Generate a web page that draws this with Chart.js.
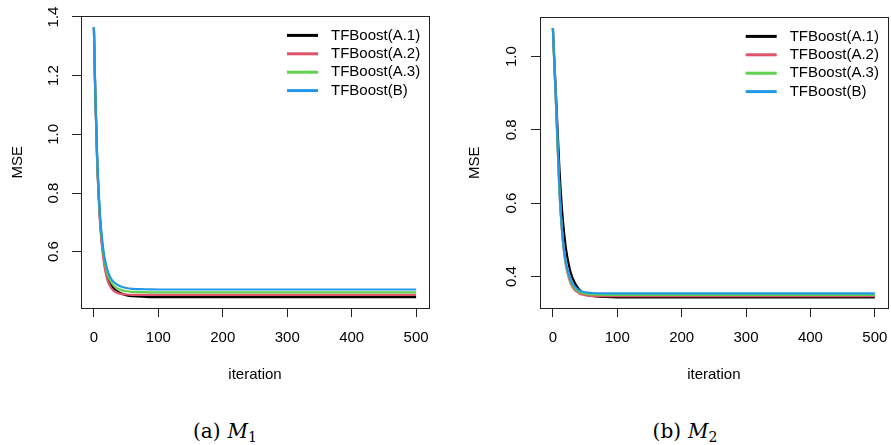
<!DOCTYPE html>
<html>
<head>
<meta charset="utf-8">
<script src="https://cdn.jsdelivr.net/npm/chart.js@4/dist/chart.umd.min.js"></script>
<style>
  body { margin: 0; background: #fff; }
  #wrap { position: relative; width: 891px; height: 445px; }
  .panel { position: absolute; top: 0; }
  .caption {
    position: absolute; top: 419px; width: 200px; text-align: center;
    font-family: "DejaVu Serif", serif; font-size: 20px; color: #000;
  }
  .caption i { margin-left: 7px; }
  .caption sub { font-size: 14px; vertical-align: -4px; }
</style>
</head>
<body>
<div id="wrap">
  <canvas id="m1" class="panel" style="left:0px" width="445" height="390"></canvas>
  <canvas id="m2" class="panel" style="left:445px" width="446" height="390"></canvas>
  <div class="caption" style="left:125px">(a)<i>M</i><sub>1</sub></div>
  <div class="caption" style="left:585px">(b)<i>M</i><sub>2</sub></div>
</div>
<script>
// boosting iterations at which the MSE was recorded
const iterations = [0, 2, 5, 10, 15, 20, 25, 30, 40, 50, 60, 80, 100, 150, 200, 300, 400, 500];
const xTicks = [0, 100, 200, 300, 400, 500];

const seriesLabels = ['TFBoost(A.1)', 'TFBoost(A.2)', 'TFBoost(A.3)', 'TFBoost(B)'];
const seriesColors = ['#000000', '#DF536B', '#61D04F', '#2297E6'];

// model M1
const mseM1_A1 = [1.365, 1.155, 0.92, 0.695, 0.585, 0.525, 0.495, 0.476, 0.460, 0.452, 0.448, 0.446, 0.445, 0.445, 0.445, 0.445, 0.445, 0.445];
const mseM1_A2 = [1.365, 1.150, 0.91, 0.680, 0.570, 0.510, 0.483, 0.468, 0.457, 0.454, 0.453, 0.453, 0.453, 0.453, 0.453, 0.453, 0.453, 0.453];
const mseM1_A3 = [1.365, 1.155, 0.92, 0.700, 0.590, 0.533, 0.503, 0.486, 0.471, 0.465, 0.463, 0.462, 0.461, 0.461, 0.461, 0.461, 0.461, 0.461];
const mseM1_B  = [1.365, 1.160, 0.93, 0.710, 0.600, 0.545, 0.515, 0.498, 0.483, 0.476, 0.473, 0.472, 0.471, 0.471, 0.471, 0.471, 0.471, 0.471];
const yTicksM1 = [0.6, 0.8, 1.0, 1.2, 1.4];

// model M2
const mseM2_A1 = [1.078, 1.000, 0.89, 0.700, 0.565, 0.480, 0.430, 0.398, 0.366, 0.352, 0.347, 0.344, 0.343, 0.343, 0.343, 0.343, 0.343, 0.343];
const mseM2_A2 = [1.078, 0.990, 0.86, 0.640, 0.505, 0.432, 0.395, 0.372, 0.355, 0.349, 0.347, 0.346, 0.346, 0.346, 0.346, 0.346, 0.346, 0.346];
const mseM2_A3 = [1.078, 0.990, 0.865, 0.643, 0.508, 0.436, 0.400, 0.377, 0.359, 0.353, 0.351, 0.350, 0.350, 0.350, 0.350, 0.350, 0.350, 0.350];
const mseM2_B  = [1.078, 0.990, 0.87, 0.645, 0.510, 0.440, 0.405, 0.382, 0.363, 0.357, 0.355, 0.354, 0.354, 0.354, 0.354, 0.354, 0.354, 0.354];
const yTicksM2 = [0.4, 0.6, 0.8, 1.0];

const FONT = 'Liberation Sans, Arial, Helvetica, sans-serif';

// frame around the plot region plus a legend in the top right corner
const framePlugin = {
  id: 'frame',
  afterDraw(chart) {
    const { ctx, chartArea: a } = chart;
    ctx.save();
    ctx.strokeStyle = '#222';
    ctx.lineWidth = 1;
    ctx.strokeRect(Math.round(a.left) + 0.5, Math.round(a.top) + 0.5,
      Math.round(a.right - a.left), Math.round(a.bottom - a.top));

    ctx.font = '15px ' + FONT;
    ctx.textBaseline = 'middle';
    ctx.textAlign = 'left';
    chart.data.datasets.forEach((ds, i) => {
      const y = a.top + 19 + i * 18.4;
      ctx.strokeStyle = ds.borderColor;
      ctx.lineWidth = 3;
      ctx.beginPath();
      ctx.moveTo(a.right - 142, y);
      ctx.lineTo(a.right - 111, y);
      ctx.stroke();
      ctx.fillStyle = '#000';
      ctx.fillText(ds.label, a.right - 98, y);
    });
    ctx.restore();
  }
};

function makePanel(id, values, yTicks, yMin, yMax, axisWidth, padRight, tickPad, titlePad) {
  const datasets = values.map((v, i) => ({
    label: seriesLabels[i],
    data: iterations.map((it, k) => ({ x: it, y: v[k] })),
    borderColor: seriesColors[i],
    borderWidth: 2.2,
    pointRadius: 0,
    cubicInterpolationMode: 'monotone',
    order: values.length - i   // later series drawn on top
  }));

  new Chart(document.getElementById(id), {
    type: 'line',
    data: { datasets },
    plugins: [framePlugin],
    options: {
      responsive: false,
      devicePixelRatio: 1,
      animation: false,
      layout: { padding: { left: 0, top: 16, right: padRight, bottom: 0 } },
      plugins: { legend: { display: false }, tooltip: { enabled: false } },
      scales: {
        x: {
          type: 'linear',
          min: -20,
          max: 520,
          afterBuildTicks: s => { s.ticks = xTicks.map(v => ({ value: v })); },
          afterFit: s => { s.height = 82; s.paddingRight = 0; },
          border: { display: false },
          grid: { drawOnChartArea: false, drawTicks: true, tickLength: 9, color: '#222' },
          ticks: { autoSkip: false, maxRotation: 0, padding: 12, color: '#000',
                   font: { family: FONT, size: 15 } },
          title: { display: true, text: 'iteration', color: '#000',
                   font: { family: FONT, size: 15, lineHeight: 1.2 },
                   padding: { top: 0, bottom: 6 } }
        },
        y: {
          type: 'linear',
          min: yMin,
          max: yMax,
          afterBuildTicks: s => { s.ticks = yTicks.map(v => ({ value: v })); },
          afterFit: s => { s.width = axisWidth; },
          border: { display: false },
          grid: { drawOnChartArea: false, drawTicks: true, tickLength: 9, color: '#222' },
          ticks: { autoSkip: false, minRotation: 90, maxRotation: 90, crossAlign: 'center',
                   padding: tickPad, color: '#000', font: { family: FONT, size: 15 },
                   callback: v => v.toFixed(1) },
          title: { display: true, text: 'MSE', color: '#000',
                   font: { family: FONT, size: 15, lineHeight: 1.2 },
                   padding: { top: titlePad, bottom: 0 } }
        }
      }
    }
  });
}

makePanel('m1', [mseM1_A1, mseM1_A2, mseM1_A3, mseM1_B], yTicksM1, 0.408, 1.402, 81, 16, 7.4, 9);
makePanel('m2', [mseM2_A1, mseM2_A2, mseM2_A3, mseM2_B], yTicksM2, 0.314, 1.107, 95, 3.3, 8.4, 21);
</script>
</body>
</html>
